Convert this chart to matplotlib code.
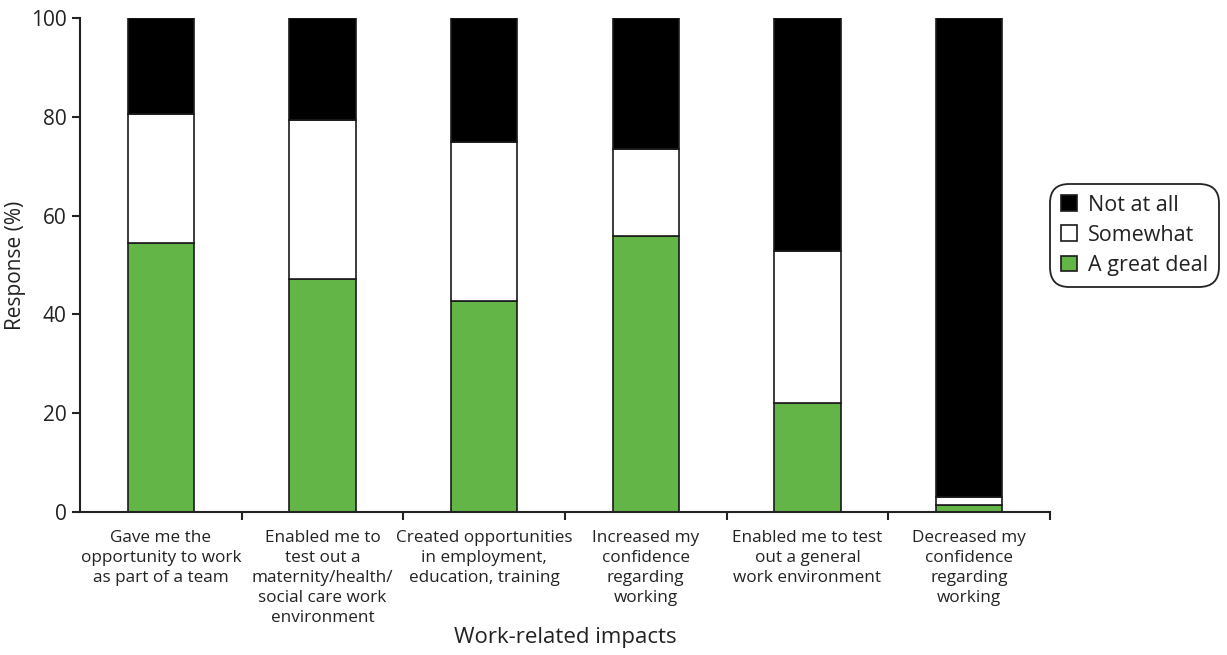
import matplotlib.pyplot as plt
import numpy as np

plt.rcParams['font.family'] = ['Open Sans', 'DejaVu Sans']

categories = ['Gave me the\nopportunity to work\nas part of a team',
              'Enabled me to\ntest out a\nmaternity/health/\nsocial care work\nenvironment',
              'Created opportunities\nin employment,\neducation, training',
              'Increased my\nconfidence\nregarding\nworking',
              'Enabled me to test\nout a general\nwork environment',
              'Decreased my\nconfidence\nregarding\nworking']
great_deal = [54.5, 47.2, 42.7, 55.9, 22.1, 1.5]
somewhat = [26.1, 32.2, 32.2, 17.6, 30.7, 1.5]
not_at_all = [19.4, 20.6, 25.1, 26.5, 47.2, 97.0]

green = '#63b548'
x = np.arange(len(categories))
w = 0.41

fig = plt.figure(figsize=(12.27, 6.55), dpi=100)
ax = fig.add_axes([0.0652, 0.2183, 0.7905, 0.7542])

b1 = ax.bar(x, great_deal, w, color=green, edgecolor='#1a1a1a', linewidth=1.2, label='A great deal')
b2 = ax.bar(x, somewhat, w, bottom=great_deal, color='white', edgecolor='#1a1a1a',
            linewidth=1.2, label='Somewhat')
b3 = ax.bar(x, not_at_all, w, bottom=np.array(great_deal) + np.array(somewhat),
            color='black', edgecolor='#1a1a1a', linewidth=1.2, label='Not at all')

ax.set_xlim(-0.5, 5.5)
ax.set_ylim(0, 100)
ax.set_yticks([0, 20, 40, 60, 80, 100])
ax.set_xticks(x)
ax.set_xticklabels(categories, fontsize=12.3, color='#222222', linespacing=1.33)
ax.set_xticks(np.arange(0.5, 6, 1), minor=True)
ax.tick_params(axis='x', which='major', length=0, pad=13)
ax.tick_params(axis='x', which='minor', length=6, width=1.5, color='#222222')
ax.tick_params(axis='y', labelsize=15, length=6, width=1.5, color='#222222', labelcolor='#222222')
for s in ['top', 'right']:
    ax.spines[s].set_visible(False)
for s in ['left', 'bottom']:
    ax.spines[s].set_linewidth(1.5)
    ax.spines[s].set_color('#222222')

ax.set_ylabel('Response (%)', fontsize=15, color='#222222', labelpad=4)
ax.set_xlabel('Work-related impacts', fontsize=16, color='#222222', labelpad=1)

leg = ax.legend(handles=[b3, b2, b1], loc='center left', bbox_to_anchor=(1.0, 0.56),
                fontsize=15.5, frameon=True, fancybox=True, edgecolor='#222222',
                handlelength=0.75, handleheight=0.75, handletextpad=0.5,
                labelspacing=0.42, borderpad=0.5, borderaxespad=0.0, framealpha=1)
leg.get_frame().set_linewidth(1.3)
leg.get_frame().set_boxstyle('round,pad=0,rounding_size=0.9')
for t in leg.get_texts():
    t.set_color('#222222')

fig.savefig('out.png', dpi=100)
